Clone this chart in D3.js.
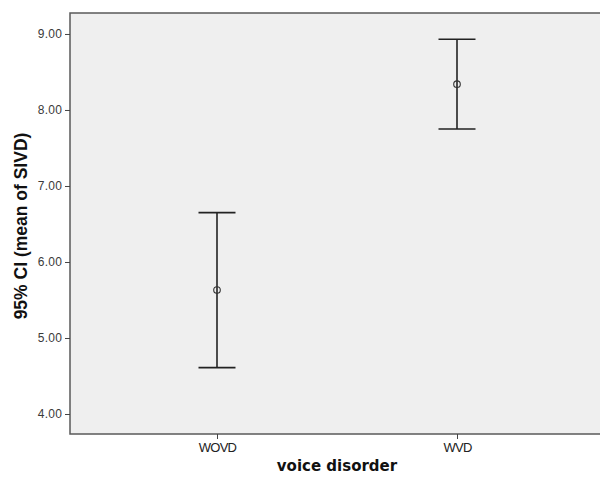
<!DOCTYPE html>
<html>
<head>
<meta charset="utf-8">
<script src="https://cdn.jsdelivr.net/npm/d3@7"></script>
<style>
  body{margin:0;background:#fff;}
  svg{display:block;}
</style>
</head>
<body>
<svg id="chart" width="600" height="477"></svg>
<script>
// ===== data =====
const groups = ["WOVD","WVD"];
const means  = [5.63, 8.34];
const lower  = [4.61, 7.75];
const upper  = [6.65, 8.93];
const yTicks = [4, 5, 6, 7, 8, 9];

// ===== layout =====
const svg = d3.select("#chart");
const M = {left:70, top:13, right:604, bottom:434};

const x = d3.scalePoint()
  .domain(groups)
  .range([M.left, M.right])
  .padding(0.6125);

const y = d3.scaleLinear()
  .domain([3.737, 9.276])
  .range([M.bottom, M.top]);

// plot background
svg.append("rect")
  .attr("x", M.left).attr("y", M.top)
  .attr("width", M.right - M.left).attr("height", M.bottom - M.top)
  .attr("fill","#efefef")
  .attr("stroke","#5a5a5a").attr("stroke-width",1.5);

// y axis
const gy = svg.append("g")
  .attr("transform",`translate(${M.left},0)`)
  .call(d3.axisLeft(y).tickValues(yTicks).tickSize(5).tickPadding(3).tickFormat(d3.format(".2f")));
gy.select(".domain").remove();
gy.selectAll("line").attr("stroke","#444");
gy.selectAll("text").attr("fill","#3a3a3a").attr("font-family","Liberation Sans, Arial, sans-serif")
  .attr("font-size","12px").attr("letter-spacing","0.2px");

// x axis
const gx = svg.append("g")
  .attr("transform",`translate(0,${M.bottom})`)
  .call(d3.axisBottom(x).tickSize(5).tickPadding(4));
gx.select(".domain").remove();
gx.selectAll("line").attr("stroke","#444");
gx.selectAll("text").attr("fill","#222").attr("font-family","Liberation Sans, Arial, sans-serif")
  .attr("font-size","13px").attr("letter-spacing","-0.7px");

// error bars
const cap = 18.5;
const bars = svg.append("g");
groups.forEach((g,i)=>{
  const cx = x(g);
  bars.append("line").attr("x1",cx).attr("x2",cx).attr("y1",y(lower[i])).attr("y2",y(upper[i]))
    .attr("stroke","#222").attr("stroke-width",1.6);
  bars.append("line").attr("x1",cx-cap).attr("x2",cx+cap).attr("y1",y(upper[i])).attr("y2",y(upper[i]))
    .attr("stroke","#222").attr("stroke-width",1.6);
  bars.append("line").attr("x1",cx-cap).attr("x2",cx+cap).attr("y1",y(lower[i])).attr("y2",y(lower[i]))
    .attr("stroke","#222").attr("stroke-width",1.6);
  bars.append("circle").attr("cx",cx).attr("cy",y(means[i])).attr("r",3.3)
    .attr("fill","none").attr("stroke","#333").attr("stroke-width",1.1);
});

// labels
svg.append("text")
  .attr("x", (M.left + M.right)/2).attr("y", 471)
  .attr("text-anchor","middle")
  .attr("font-family","DejaVu Sans, sans-serif").attr("font-weight","bold").attr("font-size","15px")
  .attr("fill","#111")
  .text("voice disorder");

svg.append("text")
  .attr("transform",`translate(27,226) rotate(-90)`)
  .attr("text-anchor","middle")
  .attr("font-family","Liberation Sans, Arial, sans-serif").attr("font-weight","bold").attr("font-size","17.5px")
  .attr("fill","#111")
  .text("95% CI (mean of SIVD)");
</script>
</body>
</html>
